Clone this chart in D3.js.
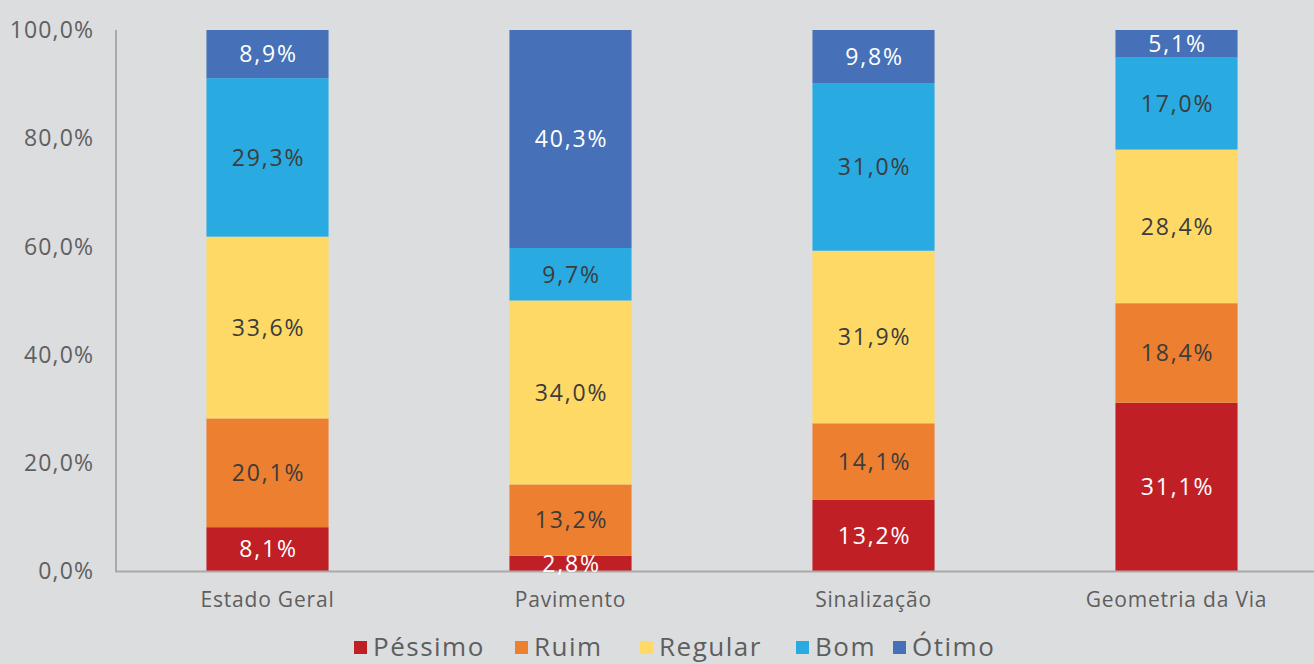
<!DOCTYPE html>
<html>
<head>
<meta charset="utf-8">
<script src="https://cdn.jsdelivr.net/npm/d3@7"></script>
<style>
  body { margin: 0; background: #dcdddf; }
  svg { display: block; }
</style>
</head>
<body>
<div id="chart"></div>
<script>
var categories = ["Estado Geral", "Pavimento", "Sinalização", "Geometria da Via"];
var seriesNames = ["Péssimo", "Ruim", "Regular", "Bom", "Ótimo"];
var pessimo = [8.1, 2.8, 13.2, 31.1];
var ruim = [20.1, 13.2, 14.1, 18.4];
var regular = [33.6, 34.0, 31.9, 28.4];
var bom = [29.3, 9.7, 31.0, 17.0];
var otimo = [8.9, 40.3, 9.8, 5.1];
var yTicks = [0, 20, 40, 60, 80, 100];

var colors = ["#c01f26", "#ed7f31", "#fed966", "#29abe2", "#4671b8"];
var labelColors = ["#ffffff", "#3c3c3c", "#3c3c3c", "#3c3c3c", "#ffffff"];

var width = 1314, height = 664;
var margin = { top: 30, right: 0, bottom: 93, left: 116 };

const svg = d3.select("#chart").append("svg")
  .attr("width", width)
  .attr("height", height)
  .style("font-family", "'Open Sans', sans-serif");

var table = categories.map(function (c, i) {
  return { cat: c, "Péssimo": pessimo[i], "Ruim": ruim[i], "Regular": regular[i], "Bom": bom[i], "Ótimo": otimo[i] };
});
var stacked = d3.stack().keys(seriesNames)(table);

const x = d3.scaleBand()
  .domain(categories)
  .range([margin.left, margin.left + 4 * 303])
  .paddingInner(0.597)
  .paddingOuter(0.2985);

const y = d3.scaleLinear()
  .domain([0, 100])
  .range([height - margin.bottom, margin.top]);

// y tick labels
svg.append("g")
  .selectAll("text")
  .data(yTicks)
  .join("text")
  .attr("x", 94)
  .attr("y", function (d) { return y(d); })
  .attr("dy", "0.36em")
  .attr("text-anchor", "end")
  .attr("fill", "#606060")
  .style("font-size", "23px")
  .style("letter-spacing", "1.1px")
  .text(function (d) { return d.toFixed(1).replace(".", ",") + "%"; });

// bars
var layers = svg.append("g")
  .selectAll("g")
  .data(stacked)
  .join("g")
  .attr("fill", function (d, i) { return colors[i]; });

layers.selectAll("rect")
  .data(function (d) { return d; })
  .join("rect")
  .attr("x", function (d) { return x(d.data.cat); })
  .attr("y", function (d) { return y(d[1]); })
  .attr("width", x.bandwidth())
  .attr("height", function (d) { return y(d[0]) - y(d[1]); });

// axes lines
svg.append("line")
  .attr("x1", margin.left).attr("x2", margin.left)
  .attr("y1", y(100)).attr("y2", y(0) + 1)
  .attr("stroke", "#a9a9a9").attr("stroke-width", 2);
svg.append("line")
  .attr("x1", margin.left - 1).attr("x2", width)
  .attr("y1", y(0) + 0.5).attr("y2", y(0) + 0.5)
  .attr("stroke", "#a9a9a9").attr("stroke-width", 2);

// value labels
stacked.forEach(function (s, i) {
  svg.append("g")
    .selectAll("text")
    .data(s)
    .join("text")
    .attr("x", function (d) { return x(d.data.cat) + x.bandwidth() / 2 + 1; })
    .attr("y", function (d) { return (y(d[0]) + y(d[1])) / 2; })
    .attr("dy", "0.36em")
    .attr("text-anchor", "middle")
    .attr("fill", labelColors[i])
    .style("font-size", "23px")
    .style("font-weight", "500")
    .style("letter-spacing", "1.8px")
    .text(function (d) { return (d[1] - d[0]).toFixed(1).replace(".", ",") + "%"; });
});

// category labels
svg.append("g")
  .selectAll("text")
  .data(categories)
  .join("text")
  .attr("x", function (d) { return x(d) + x.bandwidth() / 2; })
  .attr("y", 607)
  .attr("text-anchor", "middle")
  .attr("fill", "#5e5e5e")
  .style("font-size", "21px")
  .style("letter-spacing", "0.8px")
  .text(function (d) { return d; });

// legend
var legendX = [354, 515, 640, 796, 893];
var legend = svg.append("g")
  .selectAll("g")
  .data(seriesNames)
  .join("g")
  .attr("transform", function (d, i) { return "translate(" + legendX[i] + ",0)"; });
legend.append("rect")
  .attr("x", 0).attr("y", 641)
  .attr("width", 13).attr("height", 13)
  .attr("fill", function (d, i) { return colors[i]; });
legend.append("text")
  .attr("x", 19)
  .attr("y", 656)
  .attr("fill", "#5e5e5e")
  .style("font-size", "26px")
  .style("letter-spacing", "1.5px")
  .text(function (d) { return d; });
</script>
</body>
</html>
